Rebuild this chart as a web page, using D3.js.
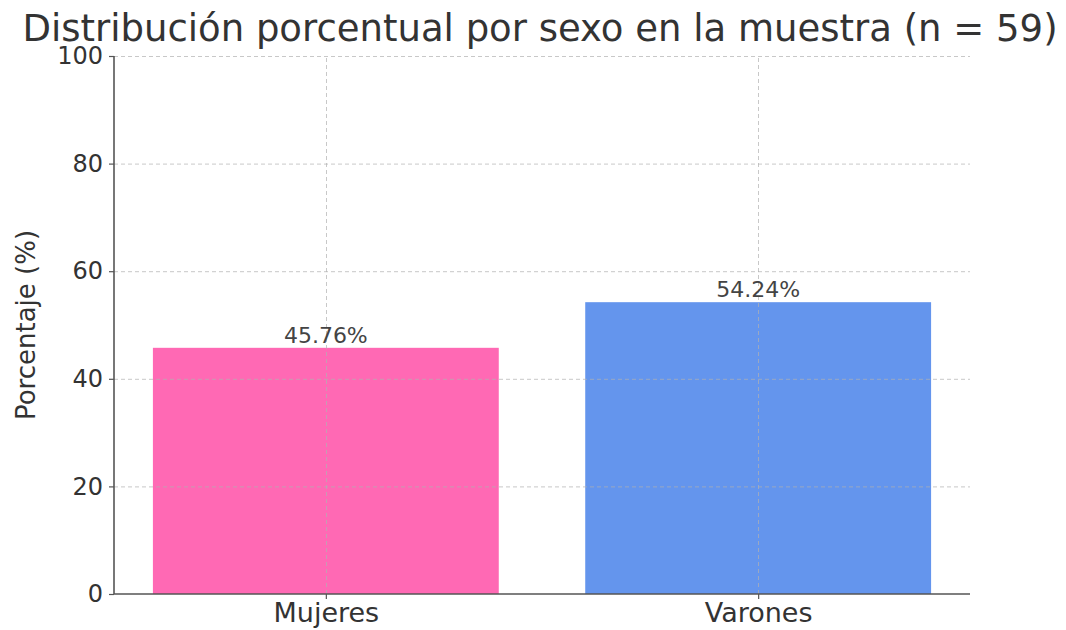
<!DOCTYPE html>
<html>
<head>
<meta charset="utf-8">
<script src="https://cdn.jsdelivr.net/npm/d3@7"></script>
<style>
  body { margin: 0; background: #fff; }
  svg { display: block; font-family: "DejaVu Sans", sans-serif; }
</style>
</head>
<body>
<svg id="chart" width="1066" height="630"></svg>
<script>
const categories = ["Mujeres", "Varones"];
const values = [45.76, 54.24];
const colors = ["#FF69B4", "#6495ED"];
const yTicks = [0, 20, 40, 60, 80, 100];

const width = 1066;
const height = 630;
const margin = { top: 56, right: 96, bottom: 36, left: 114 };

const svg = d3.select("#chart");

const x = d3.scaleLinear()
  .domain([-0.49, 1.49])
  .range([margin.left, width - margin.right]);

const y = d3.scaleLinear()
  .domain([0, 100])
  .range([height - margin.bottom, margin.top]);

const bandW = x(0.8) - x(0);

// bars
svg.selectAll(".bar")
  .data(values)
  .enter()
  .append("rect")
  .attr("class", "bar")
  .attr("x", (d, i) => x(i) - bandW / 2)
  .attr("y", d => y(d))
  .attr("width", bandW)
  .attr("height", d => y(0) - y(d))
  .attr("fill", (d, i) => colors[i]);

// grid on top of bars
const grid = svg.append("g")
  .attr("stroke", "#b0b0b0")
  .attr("stroke-opacity", 0.7)
  .attr("stroke-width", 1)
  .attr("stroke-dasharray", "4,3");

grid.selectAll(".hgrid")
  .data(yTicks.filter(t => t > 0))
  .enter()
  .append("line")
  .attr("x1", x.range()[0])
  .attr("x2", x.range()[1])
  .attr("y1", d => y(d) + 0.5)
  .attr("y2", d => y(d) + 0.5);

grid.selectAll(".vgrid")
  .data(categories)
  .enter()
  .append("line")
  .attr("x1", (d, i) => Math.round(x(i)) + 0.5)
  .attr("x2", (d, i) => Math.round(x(i)) + 0.5)
  .attr("y1", y(0))
  .attr("y2", y(100));

// axes
const yAxis = svg.append("g")
  .attr("transform", `translate(${margin.left},0)`)
  .call(d3.axisLeft(y).tickValues(yTicks).tickSize(5).tickPadding(6));

const xAxis = svg.append("g")
  .attr("transform", `translate(0,${y(0)})`)
  .call(d3.axisBottom(x).tickValues([0, 1]).tickFormat(i => categories[i]).tickSize(5).tickPadding(4));

[yAxis, xAxis].forEach(ax => {
  ax.select(".domain").attr("stroke", "#555").attr("stroke-width", 1.6);
  ax.selectAll(".tick line").attr("stroke", "#555").attr("stroke-width", 1.2);
  ax.selectAll(".tick text")
    .attr("fill", "#333")
    .style("font-family", "DejaVu Sans, sans-serif");
});
yAxis.selectAll(".tick text").style("font-size", "24px");
xAxis.selectAll(".tick text").style("font-size", "27px");
// matplotlib-like spine: no end ticks on domain
yAxis.select(".domain").attr("d", `M0,${y(100)}V${y(0)}`);
xAxis.select(".domain").attr("d", `M${x.range()[0]},0H${x.range()[1]}`);

// value labels
svg.selectAll(".val")
  .data(values)
  .enter()
  .append("text")
  .attr("x", (d, i) => x(i))
  .attr("y", d => y(d) - 5)
  .attr("text-anchor", "middle")
  .attr("fill", "#444")
  .style("font-size", "22px")
  .text(d => d.toFixed(2) + "%");

// y label
svg.append("text")
  .attr("transform", `translate(35,${(y(0) + y(100)) / 2}) rotate(-90)`)
  .attr("text-anchor", "middle")
  .attr("fill", "#333")
  .style("font-size", "26px")
  .text("Porcentaje (%)");

// title
svg.append("text")
  .attr("x", 540)
  .attr("y", 41)
  .attr("text-anchor", "middle")
  .attr("fill", "#333")
  .style("font-size", "37px")
  .text("Distribución porcentual por sexo en la muestra (n = 59)");
</script>
</body>
</html>
